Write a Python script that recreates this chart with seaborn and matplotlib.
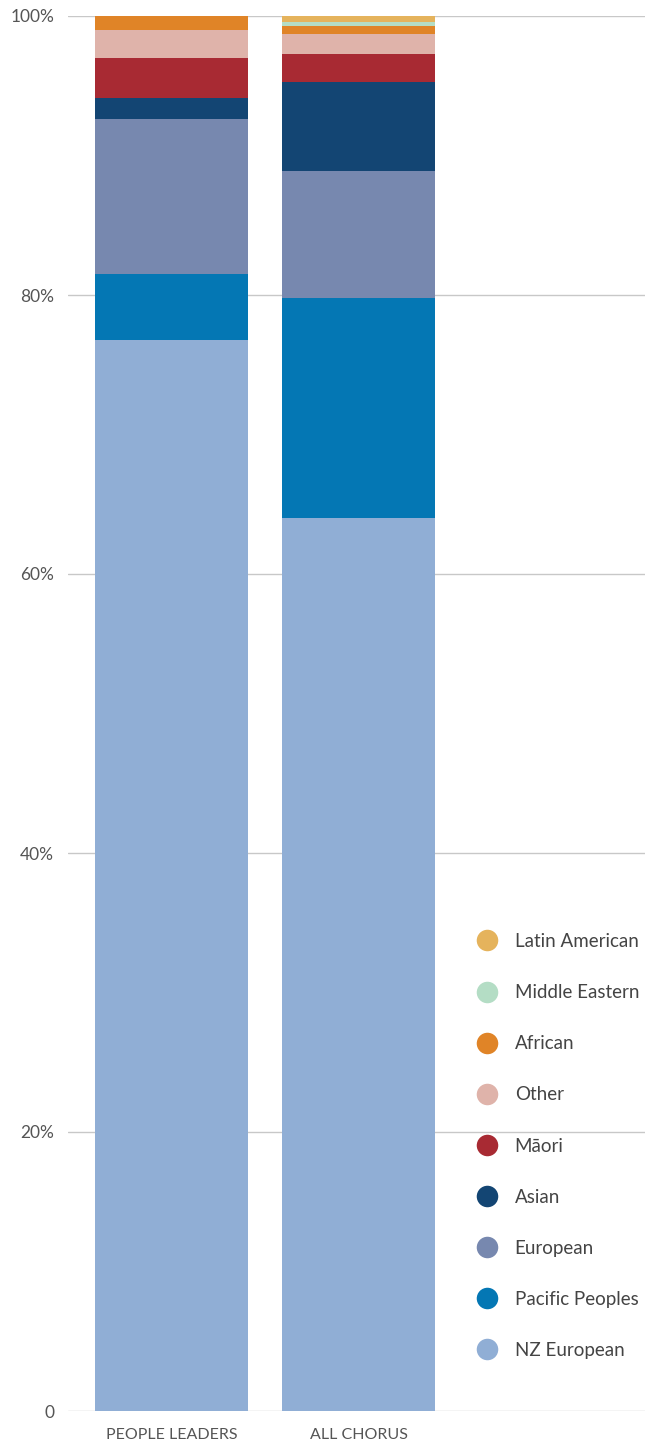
import matplotlib
matplotlib.use("Agg")
import matplotlib.pyplot as plt
from matplotlib.lines import Line2D
from matplotlib.ticker import FixedLocator, FixedFormatter
import seaborn as sns
import numpy as np

groups = ["PEOPLE LEADERS", "ALL CHORUS"]
ethnicities = ["NZ European", "Pacific Peoples", "European", "Asian", "Māori",
               "Other", "African", "Middle Eastern", "Latin American"]
people_leaders = [76.8, 4.7, 11.1, 1.5, 2.9, 2.0, 1.0, 0.0, 0.0]
all_chorus = [64.0, 15.8, 9.1, 6.4, 2.0, 1.4, 0.6, 0.3, 0.4]
colors = ["#90AED5", "#0477B4", "#7788AF", "#134573", "#A82A33",
          "#DFB3AA", "#E08427", "#B4DDC5", "#E5B35C"]
yticks = [0, 20, 40, 60, 80, 100]
ytick_labels = ["0", "20%", "40%", "60%", "80%", "100%"]

sns.set_theme(style="white")
plt.rcParams["font.family"] = ["Lato", "DejaVu Sans"]

W, H = 645, 1441
fig = plt.figure(figsize=(W / 100, H / 100), dpi=100)
ax = fig.add_axes([68 / W, 30 / H, (W - 68) / W, (1411 - 16) / H])

bottom = np.zeros(len(groups))
for name, col, a, b in zip(ethnicities, colors, people_leaders, all_chorus):
    vals = np.array([a, b])
    sns.barplot(x=groups, y=vals, bottom=bottom, color=col, width=0.818,
                saturation=1, ax=ax, linewidth=0, order=groups)
    bottom = bottom + vals

ax.set_xlim(-0.553, 2.532)
ax.set_ylim(0, 100)
ax.yaxis.set_major_locator(FixedLocator(yticks))
ax.yaxis.set_major_formatter(FixedFormatter(ytick_labels))
ax.grid(axis="y", color="#c8c8c8", linewidth=1)
ax.set_axisbelow(True)
for s in ax.spines.values():
    s.set_visible(False)
ax.tick_params(axis="y", length=0, pad=10, labelsize=12.5, labelcolor="#555555")
ax.tick_params(axis="x", length=0, pad=12, labelsize=11.5, labelcolor="#555555")
ax.set_xlabel("")
ax.set_ylabel("")

handles = [Line2D([0], [0], marker="o", linestyle="", markersize=15.5,
                  markerfacecolor=c, markeredgewidth=0, label=n)
           for n, c in zip(ethnicities[::-1], colors[::-1])]
leg = fig.legend(handles=handles, loc="upper left",
                 bbox_to_anchor=(475.5 / W, 1 - 933 / H),
                 frameon=False, fontsize=13.5, labelspacing=1.82,
                 handletextpad=0.89, handlelength=1.2, borderpad=0,
                 borderaxespad=0)
for t in leg.get_texts():
    t.set_color("#444444")

fig.savefig("out.png", dpi=100)
